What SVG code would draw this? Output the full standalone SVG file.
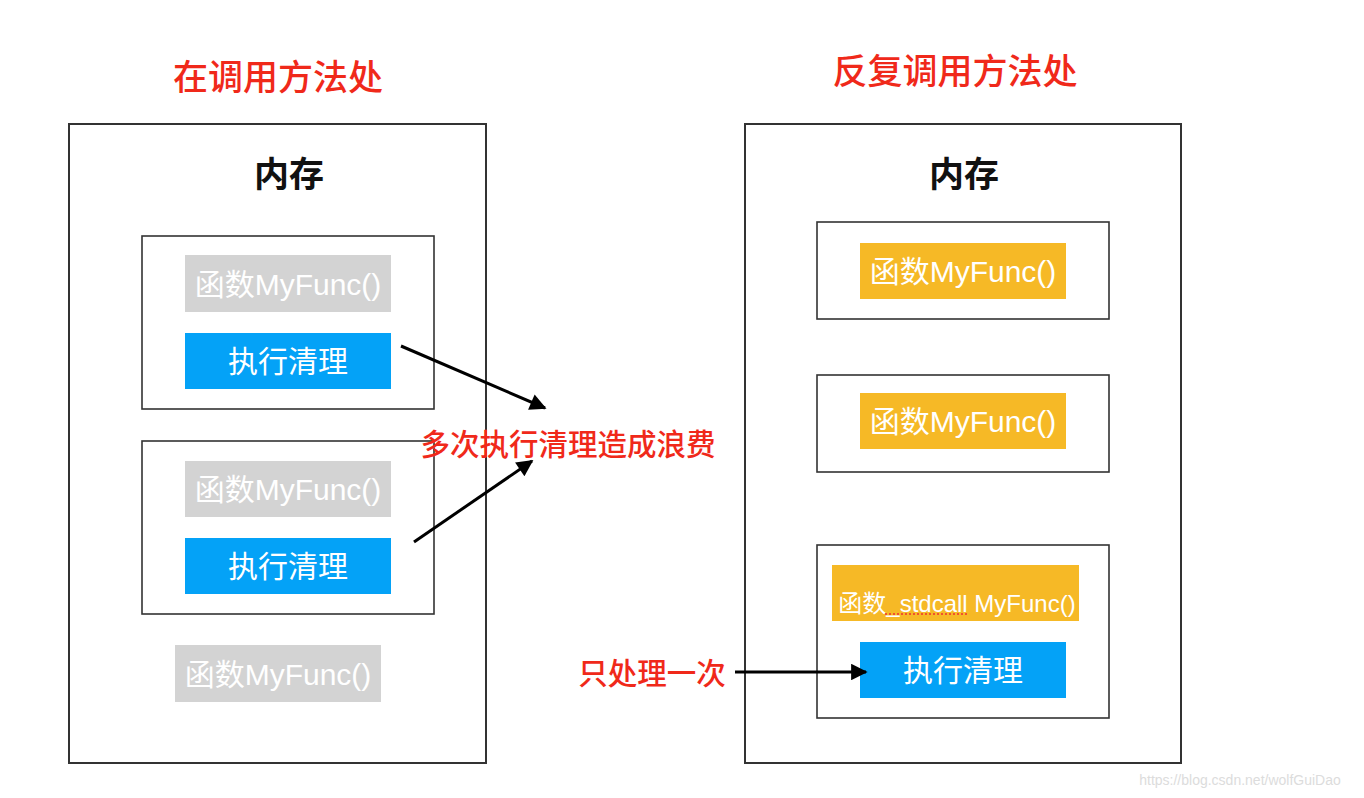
<svg xmlns="http://www.w3.org/2000/svg" width="1364" height="798" viewBox="0 0 1364 798">
<style>
text{font-family:"Liberation Sans","Noto Sans CJK SC",sans-serif;text-anchor:middle}
.frame{fill:#fff;stroke:#333;stroke-width:2}
.box{fill:#fff;stroke:#333;stroke-width:1.6}
.gray{fill:#d3d3d3}
.blue{fill:#04a2f7}
.orange{fill:#f6b926}
.wt{fill:#fff;font-size:30px}
.title{fill:#f0291a;font-size:35px;font-weight:500}
.mem{fill:#111;font-size:35px;font-weight:bold}
.red{fill:#f0291a;font-size:29.5px;font-weight:500}
.arrow{stroke:#000;stroke-width:3;fill:none;marker-end:url(#ah)}
</style>
<defs>
<marker id="ah" viewBox="0 0 10 10" refX="9" refY="5" markerWidth="6.5" markerHeight="5.5" markerUnits="strokeWidth" orient="auto">
<path d="M0,0 L10,5 L0,10 z" fill="#000"/>
</marker>
</defs>
<rect width="1364" height="798" fill="#fff"/>
<g id="title-left"><text class="title" x="278" y="90">在调用方法处</text></g>
<g id="title-right"><text class="title" x="955" y="84">反复调用方法处</text></g>
<g id="memory-left">
<rect class="frame" x="69" y="124" width="417" height="639"/>
<text class="mem" x="289" y="187">内存</text>
</g>
<g id="memory-right">
<rect class="frame" x="745" y="124" width="436" height="639"/>
<text class="mem" x="964" y="187">内存</text>
</g>
<g id="left-call-1">
<rect class="box" x="142" y="236" width="292" height="173"/>
<rect class="gray" x="185" y="255" width="206" height="57"/>
<text class="wt" x="288" y="295">函数MyFunc()</text>
<rect class="blue" x="185" y="333" width="206" height="56"/>
<text class="wt" x="288" y="372">执行清理</text>
</g>
<g id="left-call-2">
<rect class="box" x="142" y="441" width="292" height="173"/>
<rect class="gray" x="185" y="461" width="206" height="56"/>
<text class="wt" x="288" y="500">函数MyFunc()</text>
<rect class="blue" x="185" y="538" width="206" height="56"/>
<text class="wt" x="288" y="577">执行清理</text>
</g>
<g id="left-func-3">
<rect class="gray" x="175" y="645" width="206" height="57"/>
<text class="wt" x="278" y="685">函数MyFunc()</text>
</g>
<g id="right-call-1">
<rect class="box" x="817" y="222" width="292" height="97"/>
<rect class="orange" x="860" y="243" width="206" height="56"/>
<text class="wt" x="963" y="282">函数MyFunc()</text>
</g>
<g id="right-call-2">
<rect class="box" x="817" y="375" width="292" height="97"/>
<rect class="orange" x="860" y="393" width="206" height="56"/>
<text class="wt" x="963" y="432">函数MyFunc()</text>
</g>
<g id="right-call-3">
<rect class="box" x="817" y="545" width="292" height="173"/>
<rect class="orange" x="832" y="565" width="247" height="56"/>
<text class="wt" x="957" y="612" style="font-size:24px">函数_stdcall MyFunc()</text>
<line x1="885" y1="614" x2="967" y2="614" stroke="#f03030" stroke-width="1.5" stroke-dasharray="2,2"/>
<rect class="blue" x="860" y="642" width="206" height="56"/>
<text class="wt" x="963" y="681">执行清理</text>
</g>
<g id="label-waste"><text class="red" x="568" y="455">多次执行清理造成浪费</text></g>
<g id="label-once"><text class="red" x="652" y="684">只处理一次</text></g>
<g id="connectors">
<line class="arrow" x1="401" y1="346" x2="545" y2="408"/>
<line class="arrow" x1="414" y1="542" x2="532" y2="461"/>
<line class="arrow" x1="735" y1="672" x2="866" y2="672"/>
</g>
<text x="1240" y="785" style="fill:#dcdcdc;font-size:14px">https://blog.csdn.net/wolfGuiDao</text>
</svg>
